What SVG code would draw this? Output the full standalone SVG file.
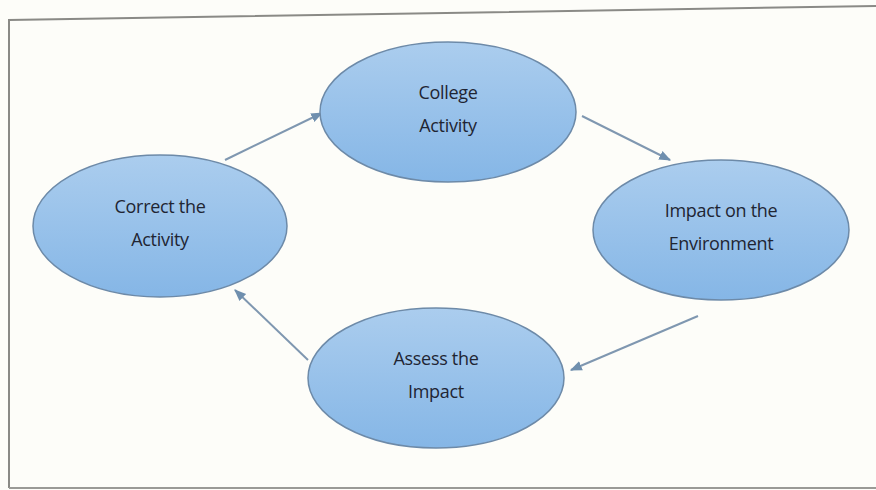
<svg xmlns="http://www.w3.org/2000/svg" width="876" height="490" viewBox="0 0 876 490">
<defs>
<linearGradient id="g" x1="0" y1="0" x2="0" y2="1">
<stop offset="0" stop-color="#abcdee"/>
<stop offset="1" stop-color="#85b6e6"/>
</linearGradient>
<marker id="ah" viewBox="0 0 10 10" refX="9" refY="5" markerWidth="6" markerHeight="6" orient="auto">
<path d="M0,1 L10,5 L0,9 z" fill="#6f8fae"/>
</marker>
<style>
.n ellipse{fill:url(#g);stroke:#6d8aa8;stroke-width:1.5}
.n text{font-family:"Open Sans","Liberation Sans",sans-serif;font-size:18px;fill:#1f2533;text-anchor:middle;letter-spacing:-0.3px}
.c line{stroke:#7f97b0;stroke-width:2;marker-end:url(#ah)}
</style>
</defs>
<rect width="876" height="490" fill="#fdfdf9"/>
<path d="M9,488 L9,20 L876,6" fill="none" stroke="#8a8a86" stroke-width="2"/>
<line x1="9" y1="488" x2="876" y2="488" stroke="#9a9a96" stroke-width="2"/>
<g class="c">
<line x1="225" y1="160" x2="322" y2="113"/>
<line x1="582" y1="116" x2="670" y2="160"/>
<line x1="698" y1="316" x2="571" y2="370"/>
<line x1="308" y1="360" x2="235" y2="290"/>
</g>
<g id="college" class="n">
<ellipse cx="448" cy="112" rx="128" ry="70"/>
<text x="448" y="99">College</text>
<text x="448" y="132">Activity</text>
</g>
<g id="impact" class="n">
<ellipse cx="721" cy="230" rx="128" ry="70"/>
<text x="721" y="217">Impact on the</text>
<text x="721" y="250">Environment</text>
</g>
<g id="assess" class="n">
<ellipse cx="436" cy="378" rx="128" ry="70"/>
<text x="436" y="365">Assess the</text>
<text x="436" y="398">Impact</text>
</g>
<g id="correct" class="n">
<ellipse cx="160" cy="226" rx="127" ry="71"/>
<text x="160" y="213">Correct the</text>
<text x="160" y="246">Activity</text>
</g>
</svg>
